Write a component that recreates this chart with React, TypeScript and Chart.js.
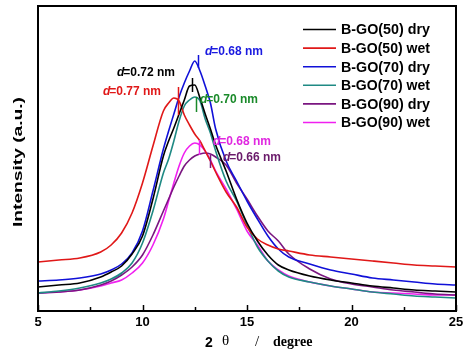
import React, { useEffect, useRef } from "react";
import { Chart, registerables } from "chart.js";

Chart.register(...registerables);

// 2θ grid (degree) shared by every pattern
const twoTheta = [5, 6, 7, 8, 8.5, 9, 9.5, 10, 10.5, 11, 11.25, 11.5, 11.75, 12, 12.25, 12.5, 12.75, 13, 13.25, 13.5, 14, 14.5, 15, 15.5, 16, 16.5, 17, 18, 19, 20, 21, 22, 23, 24, 25];

// Intensities (a.u.)
const go50dry = [24, 26, 28, 34, 39, 45, 57, 75, 112, 155, 170, 183, 197, 211, 225, 226, 213, 197, 182, 166, 140, 112, 88, 70, 56, 46, 41, 35, 31, 28, 25, 23, 21, 20, 19];
const go50wet = [49, 51, 53, 59, 66, 78, 98, 128, 165, 200, 208, 213, 210, 196, 186, 177, 170, 160, 150, 139, 119, 104, 84, 72, 66, 62, 60, 56, 54, 52, 50, 48, 46, 45, 44];
const go70dry = [30, 31, 33, 37, 41, 47, 58, 80, 120, 162, 180, 197, 214, 228, 240, 250, 240, 225, 208, 182, 150, 130, 110, 92, 75, 62, 54, 47, 41, 37, 33, 31, 29, 27, 26];
const go70wet = [18, 20, 23, 28, 32, 38, 48, 68, 100, 138, 152, 170, 190, 205, 211, 214, 210, 192, 178, 160, 130, 110, 86, 64, 50, 40, 34, 29, 25, 22, 19, 17, 15, 14, 13];
const go90dry = [18, 19, 21, 26, 30, 36, 44, 56, 76, 100, 112, 124, 135, 145, 151, 155, 157, 158, 157, 154, 146, 128, 112, 95, 80, 70, 57, 42, 32, 27, 24, 21, 19, 17, 16];
const go90wet = [18, 19, 21, 25, 28, 31, 38, 48, 66, 92, 110, 128, 145, 158, 165, 168, 166, 160, 151, 140, 122, 102, 80, 66, 50, 41, 35, 29, 25, 22, 19, 18, 17, 16, 16];

const seriesLabels = ["B-GO(50) dry", "B-GO(50) wet", "B-GO(70) dry", "B-GO(70) wet", "B-GO(90) dry", "B-GO(90) wet"];
const seriesColors = ["#000000", "#e01818", "#1010d8", "#1f8a84", "#7a1680", "#f020f0"];
const xTicks = [5, 10, 15, 20, 25];

// d-spacing annotations: peak 2θ, marker span (intensity), label anchor (2θ, intensity)
const peakText = ["0.72 nm", "0.77 nm", "0.68 nm", "0.70 nm", "0.66 nm", "0.68 nm"];
const peakColors = ["#000000", "#e01818", "#1a1ae0", "#1a8a2a", "#6a1a6a", "#e028e0"];
const peakPos = [12.37, 11.7, 12.66, 12.56, 13.23, 12.7];
const peakLow = [219, 196, 243, 199, 143, 156];
const peakHigh = [233, 224, 256, 214, 156, 171];
const labelX = [8.78, 8.11, 12.99, 12.75, 13.85, 13.37];
const labelY = [238, 219, 259, 211, 153, 169];

const overlay = {
  id: "overlay",
  afterDatasetsDraw(chart: any) {
    const { ctx, chartArea: a, scales } = chart;
    const xs = scales.x;
    const ys = scales.y;
    ctx.save();
    // peak markers
    for (let i = 0; i < peakPos.length; i++) {
      ctx.strokeStyle = peakColors[i] === "#1a8a2a" ? "#1a8a2a" : seriesColors[i];
      ctx.lineWidth = 1.5;
      const px = Math.round(xs.getPixelForValue(peakPos[i])) + 0.5;
      ctx.beginPath();
      ctx.moveTo(px, ys.getPixelForValue(peakLow[i]));
      ctx.lineTo(px, ys.getPixelForValue(peakHigh[i]));
      ctx.stroke();
    }
    // labels
    ctx.textBaseline = "middle";
    ctx.textAlign = "left";
    for (let i = 0; i < peakText.length; i++) {
      let px = xs.getPixelForValue(labelX[i]);
      const py = ys.getPixelForValue(labelY[i]);
      ctx.fillStyle = peakColors[i];
      ctx.font = "italic bold 12px 'Liberation Sans', Arial, sans-serif";
      ctx.fillText("d", px, py);
      px += ctx.measureText("d").width - 1;
      ctx.font = "bold 12px 'Liberation Sans', Arial, sans-serif";
      ctx.fillText("=" + peakText[i], px, py);
    }
    // legend
    ctx.font = "bold 14px 'Liberation Sans', Arial, sans-serif";
    for (let i = 0; i < seriesLabels.length; i++) {
      const ry = 29.5 + i * 18.6;
      ctx.strokeStyle = seriesColors[i];
      ctx.lineWidth = 1.6;
      ctx.beginPath();
      ctx.moveTo(303, ry);
      ctx.lineTo(336, ry);
      ctx.stroke();
      ctx.fillStyle = "#000";
      const w = ctx.measureText(seriesLabels[i]).width;
      ctx.save();
      ctx.translate(341, ry);
      ctx.scale(89 / w, 1);
      ctx.fillText(seriesLabels[i], 0, 1);
      ctx.restore();
    }
    // frame
    ctx.strokeStyle = "#000";
    ctx.lineWidth = 2;
    ctx.strokeRect(a.left, a.top, a.right - a.left, a.bottom - a.top);
    // inner ticks
    ctx.lineWidth = 1.5;
    for (let v = 5; v <= 25; v += 2.5) {
      const px = Math.round(xs.getPixelForValue(v)) + 0.5;
      const len = v % 5 === 0 ? 6 : 4;
      ctx.beginPath();
      ctx.moveTo(px, a.bottom);
      ctx.lineTo(px, a.bottom - len);
      ctx.stroke();
    }
    // y title
    ctx.fillStyle = "#000";
    ctx.font = "bold 13px 'Liberation Sans', Arial, sans-serif";
    ctx.textAlign = "center";
    const t = "Intensity (a.u.)";
    const tw = ctx.measureText(t).width;
    ctx.save();
    ctx.translate(18, 162);
    ctx.rotate(-Math.PI / 2);
    ctx.scale(130 / tw, 1);
    ctx.fillText(t, 0, 0);
    ctx.restore();
    // x title
    ctx.textAlign = "left";
    ctx.font = "bold 14px 'Liberation Sans', Arial, sans-serif";
    ctx.fillText("2", 205, 343);
    ctx.font = "15px 'Liberation Serif', 'Times New Roman', serif";
    ctx.fillText("θ", 222, 341);
    ctx.fillText("/", 255, 342);
    ctx.font = "bold 14px 'Liberation Serif', 'Times New Roman', serif";
    ctx.fillText("degree", 273, 342);
    ctx.restore();
  },
};

export default function App() {
  const ref = useRef<HTMLCanvasElement | null>(null);
  useEffect(() => {
    if (!ref.current) return;
    const datasets = [go50dry, go50wet, go70dry, go70wet, go90dry, go90wet].map((arr, i) => ({
      label: seriesLabels[i],
      data: arr.map((v, j) => ({ x: twoTheta[j], y: v })),
      borderColor: seriesColors[i],
      backgroundColor: seriesColors[i],
      borderWidth: 1.6,
      pointRadius: 0,
      fill: false,
      cubicInterpolationMode: "monotone" as const,
    }));
    const chart = new Chart(ref.current, {
      type: "line",
      data: { datasets },
      plugins: [overlay],
      options: {
        animation: false,
        responsive: false,
        devicePixelRatio: 1,
        layout: { padding: { left: 38, top: 6, right: 18, bottom: 0 } },
        plugins: { legend: { display: false }, tooltip: { enabled: false }, title: { display: false } },
        scales: {
          x: {
            type: "linear",
            min: 5,
            max: 25,
            afterBuildTicks: (s: any) => {
              s.ticks = xTicks.map((v) => ({ value: v }));
            },
            afterFit: (s: any) => {
              s.height = 41;
            },
            grid: { display: false, drawTicks: false },
            border: { display: false },
            ticks: {
              padding: 4,
              maxRotation: 0,
              autoSkip: false,
              color: "#000",
              font: { family: "'Liberation Sans', Arial, sans-serif", size: 13, weight: "bold" },
            },
          },
          y: {
            type: "linear",
            min: 0,
            max: 305,
            display: false,
          },
        },
      },
    });
    return () => chart.destroy();
  }, []);
  return (
    <div style={{ position: "absolute", left: 0, top: 0, width: 474, height: 352, background: "#fff" }}>
      <canvas ref={ref} width={474} height={352} style={{ width: 474, height: 352 }} />
    </div>
  );
}
